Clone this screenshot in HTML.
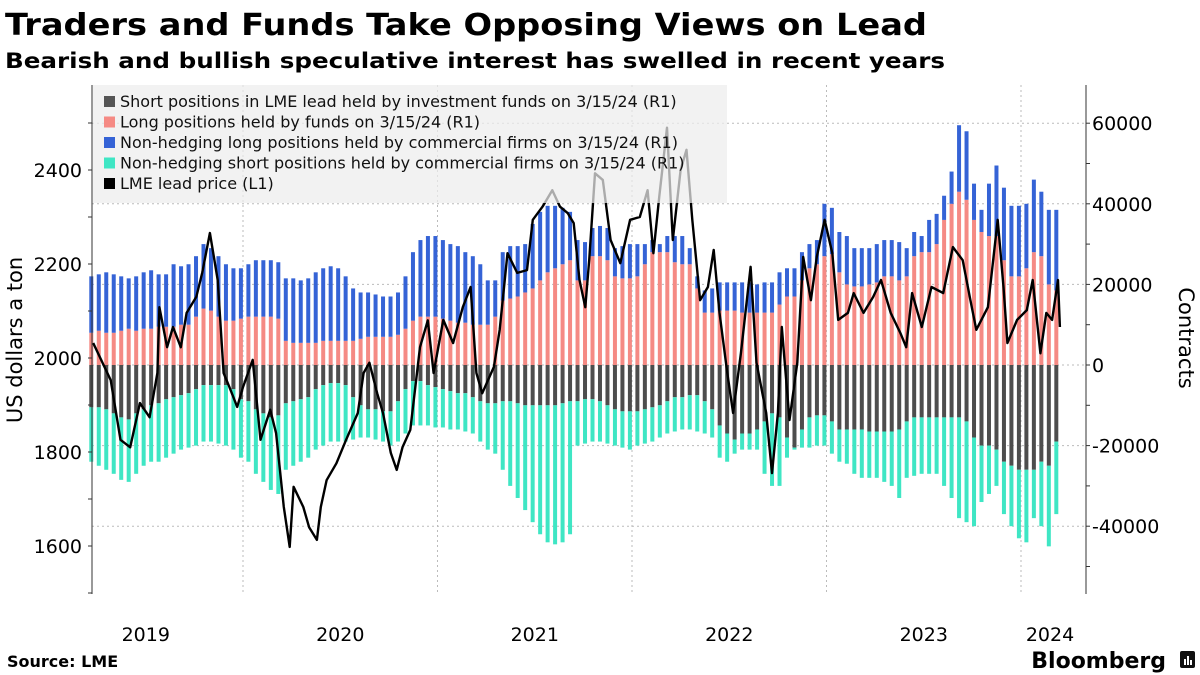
<!DOCTYPE html>
<html><head><meta charset="utf-8"><style>
html,body{margin:0;padding:0;background:#fff;}
svg{display:block;font-family:"DejaVu Sans","Liberation Sans",sans-serif;}
</style></head><body>
<svg id="chart" width="1200" height="675" viewBox="0 0 1200 675" xmlns="http://www.w3.org/2000/svg">
<text x="5" y="35" font-size="30" font-weight="bold" textLength="922" lengthAdjust="spacingAndGlyphs">Traders and Funds Take Opposing Views on Lead</text>
<text x="5" y="68" font-size="21" font-weight="bold" textLength="940" lengthAdjust="spacingAndGlyphs">Bearish and bullish speculative interest has swelled in recent years</text>
<g id="grid"></g>
<g id="bars"></g>
<g id="line"></g>
<g id="axes"></g>
<g id="legend"></g>
<text transform="translate(22,340) rotate(-90)" font-size="21" text-anchor="middle">US dollars a ton</text>
<text transform="translate(1179,338) rotate(90)" font-size="21" text-anchor="middle">Contracts</text>
<text x="7" y="667" font-size="16" font-weight="bold">Source: LME</text>
<text x="1166" y="668" font-size="22" font-weight="bold" text-anchor="end">Bloomberg</text>
<g><rect x="1180" y="651" width="15" height="17" rx="2" fill="#111"/><rect x="1184" y="659" width="2" height="6" fill="#fff"/><rect x="1187" y="656" width="2" height="9" fill="#fff"/><rect x="1190" y="660" width="2" height="5" fill="#fff"/></g>
</svg>
<script>
const NS="http://www.w3.org/2000/svg";
// --- data (thousands of contracts, biweekly from barStart) ---
const barStart=2019.22, barStep=2/52;
const fundsLong=[8,8.5,8,8,8.5,9,8.5,9,9,9.5,
9.5,9.5,10,10,12,14,13.5,12,11,11,
11.5,12,12,12,12,11.5,6,5.5,5.5,5.5,
5.5,6,6,6,6,6,6.5,7,7,7,
7,7.5,9,11,12,12,12,11.5,11,10.5,
10.5,10,10,10,12,16,16.5,17,18,19,
21,23,24,25,26,21,21,27,27,26,
22,21.5,21.5,22,25,28,28,28,25.5,25,
25,19,13,13,13.5,13.5,13.5,13,13,13,
13,13,15,17,17,21,24,25,27,27.5,
23,20,19.5,19.5,20,20.5,22,22,21,22,
27,28,28,30,36,40,43,41,36,33,
32,32,26,22,22,24,28,27,20,18.5];
const commLong=[14,14,15,14.5,13.5,12.5,13.5,14,14.5,13,
13,15.5,14.5,15,15,16,15.5,15,14,13,
12.5,13,14,14,14,14,15.5,16,15.5,16,
17.5,18,18.5,18,16,13,11.5,11,10.5,10,
10,10.5,13,17,19,20,20,19.5,19,19,
17.5,17,15,11,9,12,13,12.5,12,16,
17,16.5,15.5,14,12,10,9.5,7,7.5,8,
7,8,8.5,8,5,3,2,4,6.5,7,
4,3,5.5,6,7,7,7,7.5,7.5,7,
7.5,7.5,8,7,7,7,6,6,13,11.5,
10,12,9.5,9.5,9,9.5,9,9,9.5,7,
6,4,8,7.5,6,8,16.5,17,9,5.5,
13,17.5,18,17.5,17.5,16,18,16,18.5,20];
const fundsShort=[-10.5,-10.5,-11,-12,-13,-13.5,-12,-11,-10,-9.5,
-8.5,-8,-7.5,-7,-6,-5,-5,-5,-5,-6,
-8.5,-9,-11,-12,-13,-12.5,-9.5,-9,-8.5,-8,
-6,-5,-4.5,-4.5,-5,-8,-10,-11,-11,-11.5,
-11.5,-9,-6,-4,-4,-5,-5.5,-6,-6.5,-7,
-7,-8,-9,-9.5,-9.5,-9,-9,-9.5,-10,-10,
-10,-10,-10,-9.5,-9,-9,-8.5,-8.5,-9,-10,
-11,-11.5,-11.5,-11.5,-11,-10.5,-10,-9,-8,-8,
-7.5,-7.5,-9,-11,-15,-17,-18.5,-17,-17,-16,
-14,-12,-13,-18,-20.5,-16,-13,-12.5,-12.5,-14,
-16,-16,-16,-16,-16.5,-16.5,-16.5,-16.5,-16,-14,
-13,-13,-13,-13,-13,-13,-13,-14,-18,-20,
-20,-21,-24,-25,-26,-26,-26,-24,-25,-19];
const commShort=[-13.5,-14.5,-15,-15,-15.5,-15.5,-15,-14,-14,-14.5,
-14.5,-14,-13.5,-13.5,-14,-14,-14,-14.5,-15,-15,
-14.5,-15,-16,-17,-18,-19.5,-16.5,-16,-15.5,-15,
-15,-15,-14.5,-14.5,-14,-10.5,-8,-7,-7.5,-7.5,
-8.5,-10,-11,-11,-11,-10,-10,-9.5,-9.5,-9,
-9.5,-9,-10,-11.5,-12.5,-17,-21,-23.5,-26,-29,
-32,-34,-34.5,-34.5,-33,-11,-11,-10.5,-10,-9.5,
-9,-9,-9.5,-8.5,-8.5,-8.5,-8,-8,-8.5,-8,
-8.5,-9,-8,-7,-8,-7,-3.5,-4,-4,-5,
-13,-18,-17,-5,-0.5,-4.5,-7.5,-7.5,-7.5,-8,
-8,-8.5,-11,-12,-11.5,-11.5,-12.5,-13.5,-17,-14,
-14.5,-14,-14,-14,-17,-20,-25,-25,-22,-14,
-12,-9,-13,-15,-17,-18,-12,-16,-20,-18];
const priceDates=[2019.23,2019.32,2019.37,2019.42,2019.47,2019.52,2019.56,2019.57,2019.61,2019.64,
2019.68,2019.71,2019.76,2019.79,2019.83,2019.87,2019.90,2019.93,2019.97,2020.00,
2020.05,2020.09,2020.14,2020.17,2020.21,2020.24,2020.26,2020.31,2020.34,2020.38,
2020.40,2020.43,2020.48,2020.53,2020.59,2020.62,2020.65,2020.69,2020.72,2020.76,
2020.79,2020.82,2020.86,2020.91,2020.95,2020.98,2021.03,2021.08,2021.13,2021.17,
2021.20,2021.23,2021.29,2021.32,2021.36,2021.41,2021.46,2021.49,2021.54,2021.59,
2021.63,2021.67,2021.70,2021.73,2021.76,2021.78,2021.81,2021.85,2021.89,2021.94,
2021.99,2022.04,2022.08,2022.11,2022.14,2022.18,2022.21,2022.25,2022.28,2022.31,
2022.35,2022.39,2022.42,2022.45,2022.49,2022.52,2022.56,2022.61,2022.64,2022.69,
2022.72,2022.75,2022.77,2022.81,2022.85,2022.88,2022.92,2022.95,2022.99,2023.03,
2023.06,2023.11,2023.14,2023.19,2023.24,2023.28,2023.33,2023.38,2023.41,2023.44,
2023.49,2023.54,2023.60,2023.65,2023.70,2023.74,2023.77,2023.83,2023.88,2023.91,
2023.93,2023.98,2024.03,2024.06,2024.10,2024.13,2024.16,2024.19,2024.20];
const prices=[2032,1953,1826,1810,1904,1874,1968,2108,2023,2066,
2023,2096,2130,2181,2266,2166,1968,1938,1896,1938,
1996,1826,1890,1840,1683,1598,1726,1683,1640,1613,
1683,1740,1776,1826,1883,1968,1990,1925,1883,1798,
1762,1810,1847,2023,2080,1968,2081,2032,2108,2151,
1968,1925,1981,2060,2223,2181,2187,2294,2322,2357,
2322,2308,2287,2166,2108,2208,2393,2379,2251,2202,
2294,2300,2357,2223,2342,2490,2251,2400,2443,2294,
2123,2151,2230,2096,1968,1883,2010,2194,1990,1883,
1755,1883,2066,1868,1990,2215,2123,2215,2294,2223,
2081,2096,2138,2096,2130,2166,2096,2053,2023,2138,
2066,2151,2138,2236,2208,2123,2060,2108,2294,2151,
2032,2081,2102,2166,2010,2096,2081,2166,2066];
const leftTicks=[1600,1800,2000,2200,2400];
const rightTicks=[-40000,-20000,0,20000,40000,60000];
const years=[2019,2020,2021,2022,2023,2024];
const legendLabels=["Short positions in LME lead held by investment funds on 3/15/24 (R1)","Long positions held by funds on 3/15/24 (R1)","Non-hedging long positions held by commercial firms on 3/15/24 (R1)","Non-hedging short positions held by commercial firms on 3/15/24 (R1)","LME lead price (L1)"];
const legendColors=["#555555","#f58a84","#3563d6","#3fe6c4","#000000"];

// --- scales ---
const X0=92,X1=1086,YT=85,YB=594;
const xT=t=>243+(t-2020)*194.5;
const yL=p=>358-(p-2000)*0.47;
const yR=v=>365-v*4.03;   // v in thousands

function mk(tag,attrs,parent){const e=document.createElementNS(NS,tag);for(const k in attrs)e.setAttribute(k,attrs[k]);parent.appendChild(e);return e;}

const grid=document.getElementById('grid');
rightTicks.forEach(v=>{const l=mk('line',{x1:X0,x2:X1,y1:yR(v/1000),y2:yR(v/1000),stroke:'#bbb','stroke-dasharray':'2,3','stroke-width':1},grid);

});
for(let y=2020;y<=2024;y++){const l=mk('line',{x1:xT(y),x2:xT(y),y1:YT,y2:YB,stroke:'#bbb','stroke-dasharray':'2,3','stroke-width':1},grid);

}

const bars=document.getElementById('bars');
const bw=4;
fundsLong.forEach((v,i)=>{
  const x=xT(barStart+i*barStep)-bw/2;
  const p=v, b=v+commLong[i], g=fundsShort[i], t=fundsShort[i]+commShort[i];
  const r1=mk('rect',{x:x,width:bw,y:yR(p),height:yR(0)-yR(p),fill:'#f58a84'},bars);
  
  
  const r2=mk('rect',{x:x,width:bw,y:yR(b),height:yR(p)-yR(b),fill:'#3563d6'},bars);
  
  
  const r3=mk('rect',{x:x,width:bw,y:yR(0),height:yR(g)-yR(0),fill:'#4d4d4d'},bars);
  
  
  const r4=mk('rect',{x:x,width:bw,y:yR(g),height:yR(t)-yR(g),fill:'#3fe6c4'},bars);
  
  
});

const lg=document.getElementById('line');
const n=Math.min(priceDates.length,prices.length);
let d='';for(let i=0;i<n;i++)d+=(i?'L':'M')+xT(priceDates[i]).toFixed(1)+','+yL(prices[i]).toFixed(1);
const pl=mk('path',{d:d,fill:'none',stroke:'#000','stroke-width':2.4,'stroke-linejoin':'round'},lg);



const ax=document.getElementById('axes');
const la=mk('line',{x1:X0,x2:X0,y1:YT,y2:YB,stroke:'#333'},ax);


const ra=mk('line',{x1:X1,x2:X1,y1:YT,y2:YB,stroke:'#333'},ax);


for(let p=1500;p<=2500;p+=100){mk('line',{x1:X0-4,x2:X0,y1:yL(p),y2:yL(p),stroke:'#333'},ax);}
for(let v=-50;v<=60;v+=10){mk('line',{x1:X1,x2:X1+4,y1:yR(v),y2:yR(v),stroke:'#333'},ax);}
leftTicks.forEach(p=>{const t=mk('text',{x:X0-10,y:yL(p)+7,'font-size':19,'text-anchor':'end'},ax);t.textContent=p;

});
rightTicks.forEach(v=>{const t=mk('text',{x:X1+6,y:yR(v/1000)+7,'font-size':19},ax);t.textContent=v;

});
years.forEach(y=>{const cx=y===2024?1050:xT(y+0.5);const t=mk('text',{x:cx,y:641,'font-size':19,'text-anchor':'middle'},ax);t.textContent=y;

});

const leg=document.getElementById('legend');
const bg=mk('rect',{x:93,y:85,width:634,height:118,fill:'#ededed','fill-opacity':0.72},leg);


legendLabels.forEach((s,i)=>{
  const y=102+i*20.5;
  const sw=mk('rect',{x:104,y:y-6,width:11,height:11,fill:legendColors[i]},leg);
  
  
  const t=mk('text',{x:120,y:y+5,'font-size':16,fill:'#111'},leg);t.textContent=s;
  
  
});
</script>
</body></html>
